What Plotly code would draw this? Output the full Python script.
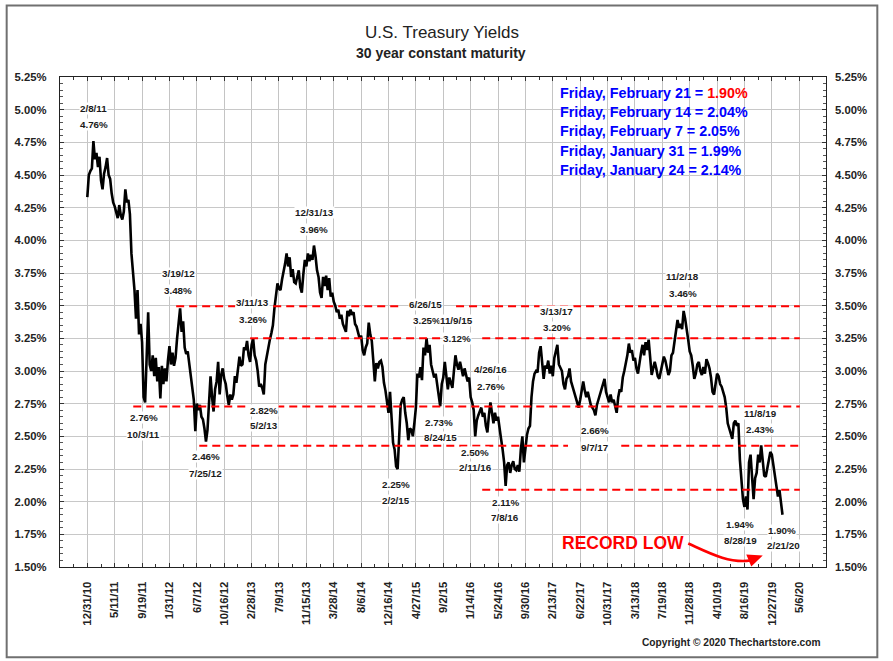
import plotly.graph_objects as go

W, H = 893, 661
L, R, T, B = 60.0, 825.7, 76.7, 567.5

tick_labels = ["12/31/10","5/11/11","9/19/11","1/31/12","6/7/12","10/16/12","2/28/13","7/9/13","11/15/13",
               "3/28/14","8/6/14","12/16/14","4/27/15","9/2/15","1/14/16","5/24/16","9/30/16","2/13/17",
               "6/22/17","10/31/17","3/13/18","7/19/18","11/28/18","4/10/19","8/16/19","12/27/19","5/6/20"]
y_ticks = [1.50,1.75,2.00,2.25,2.50,2.75,3.00,3.25,3.50,3.75,4.00,4.25,4.50,4.75,5.00,5.25]

# yield read every 5 trading days, starting 12/31/10 (one labelled tick = 90 trading days)
yields = [
 4.33,4.50,4.53,4.55,4.76,4.62,4.67,4.56,4.64,4.46,4.39,4.51,4.56,4.63,4.50,4.47,4.36,4.29,4.26,4.22,
 4.17,4.27,4.19,4.16,4.22,4.39,4.29,4.31,4.20,3.90,3.78,3.62,3.40,3.62,3.28,3.36,3.22,2.80,2.76,3.13,
 3.45,3.05,3.00,3.12,2.96,3.10,2.92,3.03,2.79,3.04,2.90,3.02,2.92,3.08,3.19,3.05,3.14,3.04,3.10,3.25,
 3.35,3.48,3.30,3.38,3.18,3.13,3.15,3.06,3.00,2.87,2.78,2.54,2.75,2.70,2.74,2.65,2.63,2.56,2.46,2.55,
 2.80,2.96,2.80,2.69,2.86,2.92,3.07,2.82,2.97,3.02,2.94,2.90,2.81,2.74,2.82,2.78,2.82,2.96,2.91,3.00,
 3.11,3.04,3.05,3.18,3.16,3.23,3.12,3.07,3.20,3.25,3.12,3.08,3.00,2.88,2.90,2.87,2.82,3.05,3.12,3.19,
 3.24,3.29,3.35,3.48,3.58,3.67,3.63,3.62,3.70,3.75,3.82,3.90,3.80,3.87,3.72,3.78,3.68,3.67,3.72,3.77,
 3.64,3.60,3.74,3.85,3.80,3.90,3.84,3.89,3.85,3.96,3.88,3.77,3.72,3.60,3.56,3.72,3.65,3.73,3.62,3.71,
 3.57,3.60,3.53,3.50,3.45,3.47,3.40,3.43,3.36,3.33,3.30,3.46,3.42,3.47,3.43,3.45,3.36,3.34,3.28,3.25,
 3.27,3.16,3.12,3.18,3.21,3.37,3.28,3.23,3.08,2.92,3.06,3.02,3.07,3.08,3.03,2.91,2.85,2.76,2.68,2.84,
 2.60,2.45,2.40,2.27,2.25,2.55,2.74,2.78,2.80,2.68,2.60,2.47,2.56,2.55,2.50,2.60,2.72,2.98,2.95,3.03,
 2.93,3.18,3.12,3.25,3.14,3.20,3.05,3.00,2.95,2.98,2.90,2.80,2.73,2.90,2.95,3.07,2.98,2.86,2.95,2.90,
 2.87,3.00,3.12,3.05,3.01,3.07,3.00,2.96,3.02,2.98,2.92,2.95,2.80,2.76,2.70,2.50,2.62,2.66,2.70,2.72,
 2.65,2.68,2.58,2.53,2.66,2.76,2.68,2.60,2.68,2.62,2.65,2.55,2.48,2.40,2.30,2.12,2.28,2.30,2.22,2.28,
 2.31,2.25,2.24,2.28,2.23,2.40,2.50,2.30,2.42,2.51,2.56,2.58,2.80,2.92,2.98,3.00,2.99,3.14,3.19,3.06,
 2.94,3.04,3.02,3.08,2.98,3.04,2.96,3.10,3.16,3.20,3.05,3.02,3.00,2.90,2.86,2.94,2.96,3.02,2.92,2.88,
 2.84,2.80,2.76,2.72,2.78,2.86,2.92,2.85,2.80,2.84,2.78,2.74,2.72,2.70,2.66,2.74,2.78,2.82,2.86,2.90,
 2.94,2.84,2.80,2.76,2.82,2.76,2.78,2.72,2.68,2.80,2.86,2.84,2.95,3.00,3.05,3.12,3.21,3.14,3.16,3.08,
 3.10,3.02,2.98,3.08,3.14,3.20,3.12,3.22,3.16,3.24,3.10,2.97,3.02,3.07,3.02,2.96,2.94,3.00,3.06,3.11,
 3.08,3.02,2.97,3.00,3.12,3.14,3.22,3.30,3.39,3.33,3.36,3.32,3.46,3.40,3.33,3.24,3.15,3.12,3.04,2.94,
 2.98,3.05,3.07,3.00,2.97,3.03,2.98,3.09,3.06,3.02,2.95,2.84,2.82,2.92,2.98,2.96,2.90,2.88,2.84,2.80,
 2.72,2.60,2.56,2.52,2.48,2.60,2.62,2.58,2.60,2.32,2.19,2.02,1.96,2.04,1.94,2.30,2.36,2.14,2.02,2.18,
 2.22,2.36,2.30,2.43,2.28,2.20,2.19,2.25,2.32,2.38,2.36,2.27,2.18,2.10,2.04,2.09,1.99,1.90,
]
days = [i * 5 for i in range(len(yields))]

# dashed support / resistance levels (segments broken where the labels sit)
level_349_x = [292,486,None,611,1035,None,1212,2342]
level_349_y = [3.495,3.495,None,3.495,3.495,None,3.495,3.495]
level_325_x = [535,1258,None,1298,2342]
level_325_y = [3.25,3.25,None,3.25,3.25]
level_273_x = [151,2342]
level_273_y = [2.728,2.728]
level_243_x = [368,1580,None,1755,2342]
level_243_y = [2.428,2.428,None,2.428,2.428]
level_209_x = [1298,2342]
level_209_y = [2.092,2.092]


def pxx(x):
    return (x - L) / (R - L)


def pxy(y):
    return (B - y) / (B - T)


fig = go.Figure()
fig.add_trace(go.Scatter(x=days, y=yields, mode="lines", line=dict(color="#000000", width=2.6), showlegend=False))
for xs, ys in [(level_349_x, level_349_y), (level_325_x, level_325_y), (level_273_x, level_273_y),
               (level_243_x, level_243_y), (level_209_x, level_209_y)]:
    fig.add_trace(go.Scatter(x=xs, y=ys, mode="lines", line=dict(color="#ff0000", width=2, dash="8px,5px"),
                             showlegend=False, connectgaps=False))
fig.add_trace(go.Scatter(x=days[:1], y=yields[:1], mode="lines", yaxis="y2", showlegend=False))

notes = [("2/8/11",93,108),("4.76%",94,124),("3/19/12",178,274),("3.48%",178,291),("12/31/13",314,212),("3.96%",314,229),
         ("3/11/13",252,303),("3.26%",253,320),("6/26/15",425,305),("3.25%",427,321),("11/9/15",456,321),("3.12%",457,339),
         ("3/13/17",556,312),("3.20%",557,328),("11/2/18",682,277),("3.46%",683,294),("2.76%",144,418),("10/3/11",143,435),
         ("2.46%",206,457),("7/25/12",205,474),("2.82%",264,411),("5/2/13",264,426),("2.25%",396,485),("2/2/15",396,501),
         ("2.73%",439,423),("8/24/15",440,438),("4/26/16",490,370),("2.76%",491,387),("2.50%",475,453),("2/11/16",475,468),
         ("2.11%",506,503),("7/8/16",505,518),("2.66%",595,431),("9/7/17",595,448),("11/8/19",760,414),("2.43%",760,430),
         ("1.94%",740,525),("8/28/19",740,541),("1.90%",782,531),("2/21/20",783,546)]
anns = []
for t, x, y in notes:
    anns.append(dict(text=f"<b>{t}</b>", xref="paper", yref="paper", x=pxx(x), y=pxy(y), showarrow=False,
                     xanchor="center", yanchor="middle", bgcolor="#ffffff", borderpad=0,
                     font=dict(family="Liberation Sans", size=9.8, color="#1a1a1a")))

weekly = [("Friday, February 21 = ", "1.90%", "#ff0000", 93), ("Friday, February 14 = ", "2.04%", "#0000ff", 112),
          ("Friday, February 7 = ", "2.05%", "#0000ff", 131), ("Friday, January 31 = ", "1.99%", "#0000ff", 151),
          ("Friday, January 24 = ", "2.14%", "#0000ff", 170)]
for a, b, c, y in weekly:
    anns.append(dict(text=f'<b>{a}<span style="color:{c}">{b}</span></b>', xref="paper", yref="paper", x=pxx(558), y=pxy(y),
                     showarrow=False, xanchor="left", yanchor="middle",
                     font=dict(family="Liberation Sans", size=14.3, color="#0000ff")))

anns += [
    dict(text="U.S. Treasury Yields", xref="paper", yref="paper", x=pxx(442), y=pxy(32), showarrow=False,
         xanchor="center", yanchor="middle", font=dict(family="Liberation Sans", size=17, color="#222222")),
    dict(text="<b>30 year constant maturity</b>", xref="paper", yref="paper", x=pxx(441), y=pxy(52.5), showarrow=False,
         xanchor="center", yanchor="middle", font=dict(family="Liberation Sans", size=14, color="#222222")),
    dict(text="<b>RECORD LOW</b>", xref="paper", yref="paper", x=pxx(623), y=pxy(543), showarrow=False,
         xanchor="center", yanchor="middle", font=dict(family="Liberation Sans", size=17.5, color="#ff0000")),
    dict(text="<b>Copyright © 2020 Thechartstore.com</b>", xref="paper", yref="paper", x=pxx(822), y=pxy(643), showarrow=False,
         xanchor="right", yanchor="middle", font=dict(family="Liberation Sans", size=10.2, color="#222222")),
]


def P(x, y):
    return f"{pxx(x):.5f},{pxy(y):.5f}"


shapes = [
    dict(type="rect", xref="paper", yref="paper", x0=pxx(6.7), x1=pxx(877), y0=pxy(658), y1=pxy(5),
         line=dict(color="#707070", width=2), fillcolor="rgba(0,0,0,0)", layer="below"),
    dict(type="rect", xref="paper", yref="paper", x0=pxx(553), x1=pxx(758), y0=pxy(183), y1=pxy(78),
         line=dict(width=0), fillcolor="#ffffff", layer="between"),
    dict(type="path", xref="paper", yref="paper", line=dict(color="#ff0000", width=2.6),
         path=f"M {P(688,544)} C {P(708,553)} {P(728,564)} {P(750,561)}"),
    dict(type="path", xref="paper", yref="paper", line=dict(color="#ff0000", width=0), fillcolor="#ff0000",
         path=f"M {P(762.5,556)} L {P(746,555)} L {P(751,567)} Z"),
]

tick_font = dict(family="Liberation Sans", size=11.3, color="#222222")
y_text = [f"<b>{v:.2f}%</b>" for v in y_ticks]
fig.update_layout(
    width=W, height=H, autosize=False,
    margin=dict(l=L, r=W - R, t=T, b=H - B, pad=0),
    paper_bgcolor="#ffffff", plot_bgcolor="#ffffff",
    xaxis=dict(range=[-89.8, 2428], tickmode="array",
               tickvals=[i * 90 for i in range(len(tick_labels))],
               ticktext=[f"<b>{t}</b>" for t in tick_labels], tickangle=-90, tickfont=tick_font,
               ticks="inside", ticklen=4, tickcolor="#333333", ticklabelstandoff=9,
               showline=True, linecolor="#222222", linewidth=1.3, mirror="ticks",
               showgrid=True, gridcolor="#c4c4c4", gridwidth=1.4, zeroline=False,
               minor=dict(tickmode="array", tickvals=[-45 + i * 90 for i in range(28)], ticks="inside", ticklen=3, tickcolor="#333333", showgrid=False)),
    yaxis=dict(range=[1.5, 5.25], tickmode="array", tickvals=y_ticks, ticktext=y_text, tickfont=tick_font,
               ticks="inside", ticklen=4, tickcolor="#333333", ticklabelstandoff=10,
               showline=True, linecolor="#222222", linewidth=1.3, mirror="ticks",
               showgrid=True, gridcolor="#c8c8c8", gridwidth=1.2, zeroline=False,
               minor=dict(tickmode="linear", tick0=1.5, dtick=0.05, ticks="inside", ticklen=3, tickcolor="#555555", showgrid=False)),
    yaxis2=dict(range=[1.5, 5.25], overlaying="y", side="right", tickmode="array", tickvals=y_ticks, ticktext=y_text,
                tickfont=tick_font, ticks="", ticklabelstandoff=8, showgrid=False, zeroline=False, showline=False),
    annotations=anns, shapes=shapes, showlegend=False,
)

fig.write_html("out.html", post_script="document.body.style.margin='0';", config={"displayModeBar": False})
